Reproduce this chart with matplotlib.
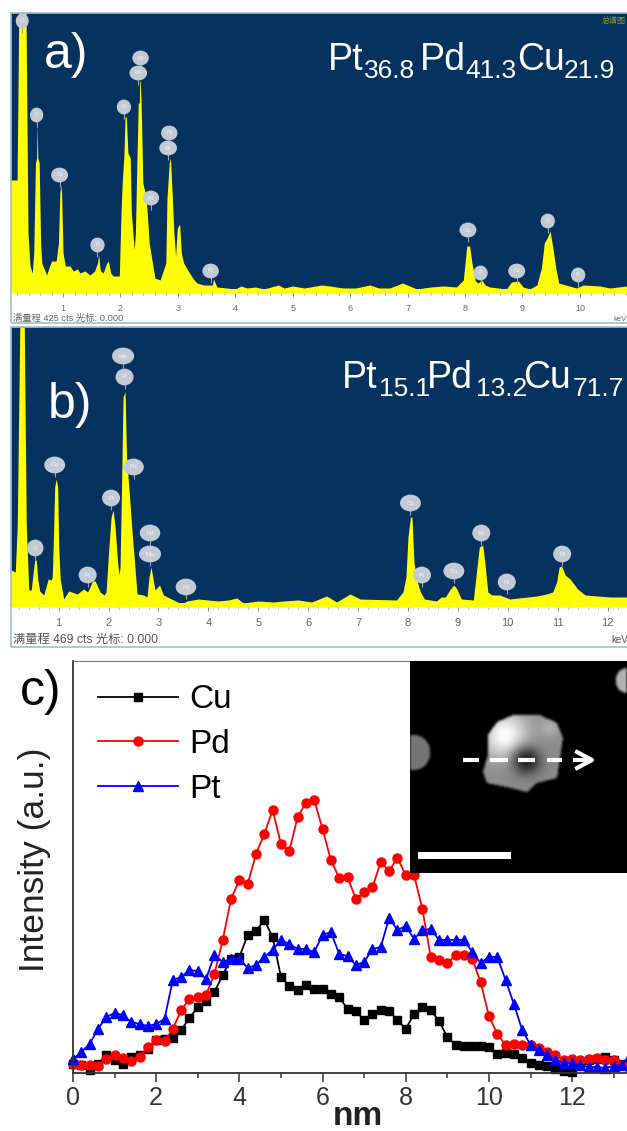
"""EDS spectra of two PtPdCu particles and a STEM line scan across a hollow one."""
import matplotlib

matplotlib.use("Agg")
import matplotlib.pyplot as plt  # noqa: E402
import numpy as np  # noqa: E402
from matplotlib.patches import Rectangle  # noqa: E402
from matplotlib.path import Path  # noqa: E402

plt.rcParams["font.family"] = ["Liberation Sans", "Noto Sans CJK SC", "DejaVu Sans"]

W, H = 627, 1131
NAVY = "#06325f"
YELLOW = "#ffff00"
FRAME = "#a7bbd2"

kev_a = [0.09, 0.2, 0.23, 0.355, 0.39, 0.425, 0.465, 0.49, 0.52, 0.54,
         0.55, 0.56, 0.585, 0.61, 0.63, 0.715, 0.76, 0.8, 0.88, 0.92,
         0.945, 0.96, 0.975, 1.0, 1.04, 1.12, 1.18, 1.25, 1.295, 1.38,
         1.47, 1.55, 1.6, 1.62, 1.65, 1.7, 1.76, 1.79, 1.83, 1.875,
         1.98, 2.01, 2.03, 2.06, 2.08, 2.1, 2.13, 2.17, 2.19, 2.24,
         2.26, 2.29, 2.31, 2.33, 2.335, 2.345, 2.36, 2.39, 2.43, 2.46,
         2.5, 2.6, 2.69, 2.79, 2.81, 2.85, 2.87, 2.9, 2.93, 2.96,
         2.99, 3.03, 3.06, 3.1, 3.18, 3.27, 3.33, 3.45, 3.6, 3.62,
         3.68, 3.85, 4.0, 4.1, 4.2, 4.35, 4.5, 4.75, 4.85, 5.0,
         5.2, 5.5, 5.65, 5.88, 6.1, 6.34, 6.5, 6.69, 6.91, 7.16,
         7.4, 7.62, 7.85, 7.97, 8.0, 8.03, 8.08, 8.12, 8.18, 8.23,
         8.29, 8.35, 8.43, 8.72, 8.81, 8.93, 9.01, 9.13, 9.25, 9.33,
         9.38, 9.43, 9.48, 9.53, 9.58, 9.63, 9.94, 10.06, 10.35, 10.52,
         10.82]
cts_a = [113, 113, 280, 280, 60, 27, 20, 40, 130, 135,
         170, 135, 130, 50, 30, 18, 26, 32, 32, 50,
         100, 108, 100, 40, 27, 27, 22, 24, 20, 22,
         18, 22, 30, 38, 22, 20, 30, 32, 20, 17,
         17, 80, 110, 137, 175, 177, 140, 135, 80, 43,
         60, 140, 190, 190, 212, 212, 190, 110, 100, 85,
         50, 15, 13, 30, 95, 130, 135, 100, 60, 37,
         65, 69, 40, 30, 22, 14, 10, 8, 8, 14,
         6, 5, 4, 7, 5, 6, 4, 8, 5, 7,
         5, 8, 7, 5, 5, 8, 5, 5, 10, 4,
         6, 7, 6, 13, 30, 47, 47, 30, 12, 10,
         13, 8, 6, 4, 11, 12, 6, 4, 8, 25,
         50, 55, 62, 45, 25, 10, 5, 8, 7, 5,
         7]
tag_kev_a = [0.29, 0.54, 0.94, 1.6, 2.06, 2.31, 2.35, 2.53, 2.85, 2.83, 3.57, 8.05, 8.27, 8.9, 9.44, 9.97]
tag_cts_a = [272, 178, 118, 48, 186, 220, 235, 95, 160, 145, 22, 63, 20, 22, 72, 18]
tag_name_a = ["C", "O", "Cu", "Pt", "Pt", "Mo", "Pd", "Pd", "Pd", "Mo", "Pd", "Cu", "Pt", "Cu", "Pt", "Pt"]

# panel b
kev_b = [0.04, 0.13, 0.17, 0.22, 0.31, 0.35, 0.4, 0.45, 0.49, 0.52,
         0.55, 0.58, 0.62, 0.7, 0.79, 0.85, 0.87, 0.89, 0.92, 0.95,
         0.98, 1.0, 1.03, 1.1, 1.2, 1.37, 1.5, 1.58, 1.68, 1.73,
         1.83, 1.91, 1.95, 2.0, 2.05, 2.09, 2.13, 2.18, 2.21, 2.23,
         2.26, 2.29, 2.33, 2.36, 2.42, 2.47, 2.52, 2.57, 2.7, 2.77,
         2.81, 2.85, 2.93, 3.02, 3.1, 3.3, 3.47, 3.57, 3.8, 4.0,
         4.2, 4.4, 4.57, 4.7, 5.0, 5.3, 5.5, 5.8, 6.07, 6.37,
         6.57, 6.84, 7.04, 7.77, 7.9, 7.96, 8.0, 8.05, 8.08, 8.12,
         8.17, 8.25, 8.33, 8.57, 8.67, 8.75, 8.85, 8.92, 8.98, 9.07,
         9.31, 9.38, 9.43, 9.5, 9.55, 9.6, 9.68, 9.84, 10.04, 10.58,
         10.78, 10.9, 10.98, 11.03, 11.08, 11.15, 11.25, 11.4, 11.55, 12.05,
         12.39]
cts_b = [37, 35, 82, 280, 280, 82, 17, 17, 35, 47,
         47, 28, 16, 12, 28, 27, 30, 60, 120, 128,
         120, 60, 28, 8, 16, 13, 18, 15, 26, 26,
         15, 12, 15, 55, 90, 97, 80, 45, 32, 40,
         120, 210, 215, 150, 110, 75, 45, 13, 12, 10,
         30, 40, 17, 22, 12, 7, 3, 6, 8, 7,
         6, 7, 9, 4, 6, 5, 6, 7, 5, 11,
         5, 13, 8, 7, 15, 30, 70, 90, 90, 45,
         28, 15, 8, 6, 10, 10, 18, 22, 18, 8,
         7, 38, 60, 62, 40, 15, 12, 12, 8, 11,
         13, 15, 25, 40, 41, 32, 28, 18, 12, 10,
         10]
tag_kev_b = [0.53, 0.92, 1.58, 2.05, 2.32, 2.29, 2.5, 2.83, 2.83, 3.55, 8.05, 8.28, 8.92, 9.47, 9.98, 11.09]
tag_cts_b = [59, 142, 32, 109, 230, 251, 140, 74, 53, 20, 104, 32, 36, 74, 25, 53]
tag_name_b = ["O", "Cu", "Pt", "Pt", "Pt", "Mo", "Pd", "Pd", "Mo", "Pd", "Cu", "Pt", "Cu", "Pt", "Pt", "Pt"]

# panel c, line scan
nm = [0.0, 0.2, 0.4, 0.6, 0.8, 1.0, 1.2, 1.4, 1.6, 1.8, 2.0, 2.2, 2.4, 2.6, 2.8, 3.0, 3.2, 3.4, 3.6, 3.8,
      4.0, 4.2, 4.4, 4.6, 4.8, 5.0, 5.2, 5.4, 5.6, 5.8, 6.0, 6.2, 6.4, 6.6, 6.8, 7.0, 7.2, 7.4, 7.6, 7.8,
      8.0, 8.2, 8.4, 8.6, 8.8, 9.0, 9.2, 9.4, 9.6, 9.8, 10.0, 10.2, 10.4, 10.6, 10.8, 11.0, 11.2, 11.4,
      11.6, 11.8, 12.0, 12.2, 12.4, 12.6, 12.8, 13.0, 13.2, 13.4]
cu = [9, 8, 3, 9, 18, 13, 9, 16, 18, 24, 33, 34, 35, 43, 55, 66, 72, 81, 98, 114,
      116, 138, 142, 153, 136, 96, 87, 83, 88, 84, 84, 79, 76, 64, 62, 53, 59, 63, 62, 53,
      44, 59, 66, 63, 52, 36, 28, 27, 27, 27, 26, 19, 20, 19, 15, 10, 8, 7,
      4, 2, 1, 9, 13, 14, 16, 13, 9, 6]
pd = [9, 8, 8, 7, 14, 18, 15, 12, 16, 26, 33, 32, 44, 63, 74, 76, 78, 99, 133, 174,
      193, 189, 219, 239, 263, 229, 222, 256, 270, 273, 244, 213, 195, 196, 174, 181, 186, 211, 202, 215,
      198, 198, 164, 116, 113, 110, 118, 118, 114, 91, 57, 39, 28, 29, 28, 28, 25, 21,
      18, 13, 14, 13, 14, 15, 13, 13, 8, 4]
pt = [14, 21, 29, 44, 56, 60, 58, 51, 49, 47, 49, 54, 93, 96, 103, 102, 94, 118, 111, 114,
      114, 105, 108, 116, 123, 133, 129, 124, 124, 121, 138, 141, 119, 117, 108, 111, 124, 126, 155, 143,
      147, 134, 143, 144, 133, 133, 133, 133, 121, 110, 116, 116, 93, 69, 43, 28, 23, 18,
      13, 10, 10, 8, 6, 6, 5, 7, 8, 18]
nm_ticks = [0, 2, 4, 6, 8, 10, 12]

# inset picture outlines, picture pixels
particle_x = [488, 497, 513, 540, 557, 563, 560, 557, 537, 527, 507, 487, 483, 488]
particle_y = [735, 722, 715, 715, 723, 738, 758, 778, 783, 792, 787, 783, 772, 755]
dash_x = [(463, 479), (490, 508), (518, 535), (547, 562), (573, 590)]


def px_rect(x0, y0, x1, y1):
    return [x0 / W, 1 - y1 / H, (x1 - x0) / W, (y1 - y0) / H]


def put(fig, x, y, s, **kw):
    return fig.text(x / W, 1 - y / H, s, va="baseline", **kw)


def spectrum(fig, rect, kev, cts, xlim, ticks, tags, tag_size, tick_size):
    ax = fig.add_axes(px_rect(*rect), facecolor=NAVY)
    ax.fill_between(kev, cts, color=YELLOW, lw=0)
    ax.axhline(2.5, color=YELLOW, lw=3.5)
    ax.set_xlim(*xlim)
    ax.set_ylim(0, 280)
    ax.set_yticks([])
    ax.set_xticks(ticks)
    ax.set_xticks(np.arange(0.2, xlim[1], 0.2), minor=True)
    ax.tick_params(axis="x", which="major", length=3, width=0.6, color="#777777",
                   labelsize=tick_size, labelcolor="#666666", pad=5)
    ax.tick_params(axis="x", which="minor", length=1.5, width=0.5, color="#888888")
    for s in ax.spines.values():
        s.set_visible(False)
    for k, c, name in zip(*tags):
        ax.vlines(k, c - 12, c, color="#9aa6ad", lw=0.8)
        ax.text(k, c, name, ha="center", va="center", fontsize=tag_size, color="#f4f6f8",
                bbox=dict(boxstyle="ellipse,pad=0.55", fc="#c2cbd5", ec="none"))
    return ax


def frame(fig, x0, y0, x1, y1):
    fig.add_artist(Rectangle((x0 / W, 1 - y1 / H), (x1 - x0) / W, (y1 - y0) / H, fill=False,
                             ec=FRAME, lw=1.2, transform=fig.transFigure))


def formula(fig, base, parts):
    # parts are (x of symbol, symbol, x of subscript, subscript)
    for x, sym, xs, sub in parts:
        put(fig, x, base, sym, color="white", fontsize=27)
        put(fig, xs, base + 8, sub, color="white", fontsize=19)


def inset_image():
    yy, xx = np.mgrid[661:873, 410:627]
    pts = np.column_stack([xx.ravel() + 0.5, yy.ravel() + 0.5])
    mask = Path(np.column_stack([particle_x, particle_y])).contains_points(pts).reshape(xx.shape)
    img = mask * (0.55 + 0.45 * np.exp(-((xx - 505) ** 2 + (yy - 735) ** 2) / (2 * 16.0 ** 2)))
    img = img + mask * 0.12 * np.exp(-((xx - 550) ** 2 + (yy - 727) ** 2) / (2 * 7.0 ** 2))
    img = img * (1 - 0.82 * np.exp(-((xx - 526) ** 2 + (yy - 760) ** 2) / (2 * 10.0 ** 2)))
    img = np.where((xx - 412) ** 2 + (yy - 752) ** 2 < 18 ** 2, 0.46, img)
    img = np.where((xx - 628) ** 2 + (yy - 680) ** 2 < 13 ** 2, 0.7, img)
    kernel = np.ones(3) / 3
    for _ in range(2):
        img = np.apply_along_axis(lambda r: np.convolve(r, kernel, mode="same"), 0, img)
        img = np.apply_along_axis(lambda r: np.convolve(r, kernel, mode="same"), 1, img)
    return img


fig = plt.figure(figsize=(W / 100, H / 100), dpi=100, facecolor="white")

# a)
spectrum(fig, (11, 13, 627, 293), kev_a, cts_a, (0.094, 10.82), range(1, 11),
         (tag_kev_a, tag_cts_a, tag_name_a), 3.6, 6.5)
frame(fig, 11, 13, 640, 323)
put(fig, 44, 68, "a)", color="white", fontsize=36)
formula(fig, 70, [(328, "Pt", 364, "36.8"), (420, "Pd", 465, "41.3"), (517, "Cu", 564, "21.9")])
put(fig, 13, 321, "满量程 425 cts 光标: 0.000", color="#666666", fontsize=6.7)
put(fig, 614, 321, "keV", color="#666666", fontsize=5.5)
put(fig, 602, 23, "总谱图", color="#8f9f2b", fontsize=5.8)

# b)
spectrum(fig, (11, 327, 627, 607), kev_b, cts_b, (0.044, 12.39), range(1, 13),
         (tag_kev_b, tag_cts_b, tag_name_b), 4.5, 8)
frame(fig, 11, 327, 640, 647)
put(fig, 48, 418, "b)", color="white", fontsize=36)
formula(fig, 388, [(342, "Pt", 379, "15.1"), (427, "Pd", 476, "13.2"), (523, "Cu", 573, "71.7")])
put(fig, 13, 643, "满量程 469 cts 光标: 0.000", color="#555555", fontsize=8.8)
put(fig, 611, 643, "keV", color="#555555", fontsize=7)

# c)
ax = fig.add_axes(px_rect(73, 661, 627, 1073))
ax.plot(nm, cu, color="black", marker="s", ms=6.3, lw=1.3, label="Cu", clip_on=False)
ax.plot(nm, pd, color="red", marker="o", ms=6.5, lw=1.3, label="Pd", clip_on=False)
ax.plot(nm, pt, color="blue", marker="^", ms=6.5, lw=1.3, label="Pt", clip_on=False)
ax.set_xlim(0, 13.32)
ax.set_ylim(0, 412)
ax.set_yticks([])
ax.set_xticks(nm_ticks)
ax.set_xticks([1, 3, 5, 7, 9, 11, 13], minor=True)
ax.tick_params(axis="x", which="major", length=6.5, width=1.1, color="#333333",
               labelsize=18, labelcolor="#333333", pad=3)
ax.tick_params(axis="x", which="minor", length=3.5, width=1.1, color="#333333")
for side in ("left", "bottom"):
    ax.spines[side].set_color("#333333")
    ax.spines[side].set_linewidth(1.3)
ax.spines["top"].set_color("#777777")
ax.spines["right"].set_visible(False)
ax.legend(loc="upper left", bbox_to_anchor=(0.045, 0.943), frameon=False, fontsize=24,
          handlelength=2.4, labelspacing=0.41, handletextpad=0.35, borderpad=0, borderaxespad=0)
put(fig, 20, 705, "c)", color="black", fontsize=36)
fig.text(35 / W, 1 - 972 / H, "Intensity (a.u.)", rotation=90, ha="center", va="bottom",
         fontsize=25.5, color="#222222")
put(fig, 333, 1125, "nm", color="#222222", fontsize=24, fontweight="bold")

# inset picture with scan arrow and scale bar
inset = fig.add_axes(px_rect(410, 661, 627, 873))
inset.imshow(inset_image(), cmap="gray", vmin=0, vmax=1, extent=(410, 627, 873, 661),
             interpolation="bilinear", aspect="auto")
for x0, x1 in dash_x:
    inset.plot([x0, x1], [760, 760], color="white", lw=3, solid_capstyle="butt")
inset.plot([577, 592, 577], [752, 760, 768], color="white", lw=3)
inset.add_patch(Rectangle((418, 852), 93, 7, color="white", lw=0))
inset.set_xlim(410, 627)
inset.set_ylim(873, 661)
inset.set_axis_off()

fig.savefig("out.png", dpi=100)
